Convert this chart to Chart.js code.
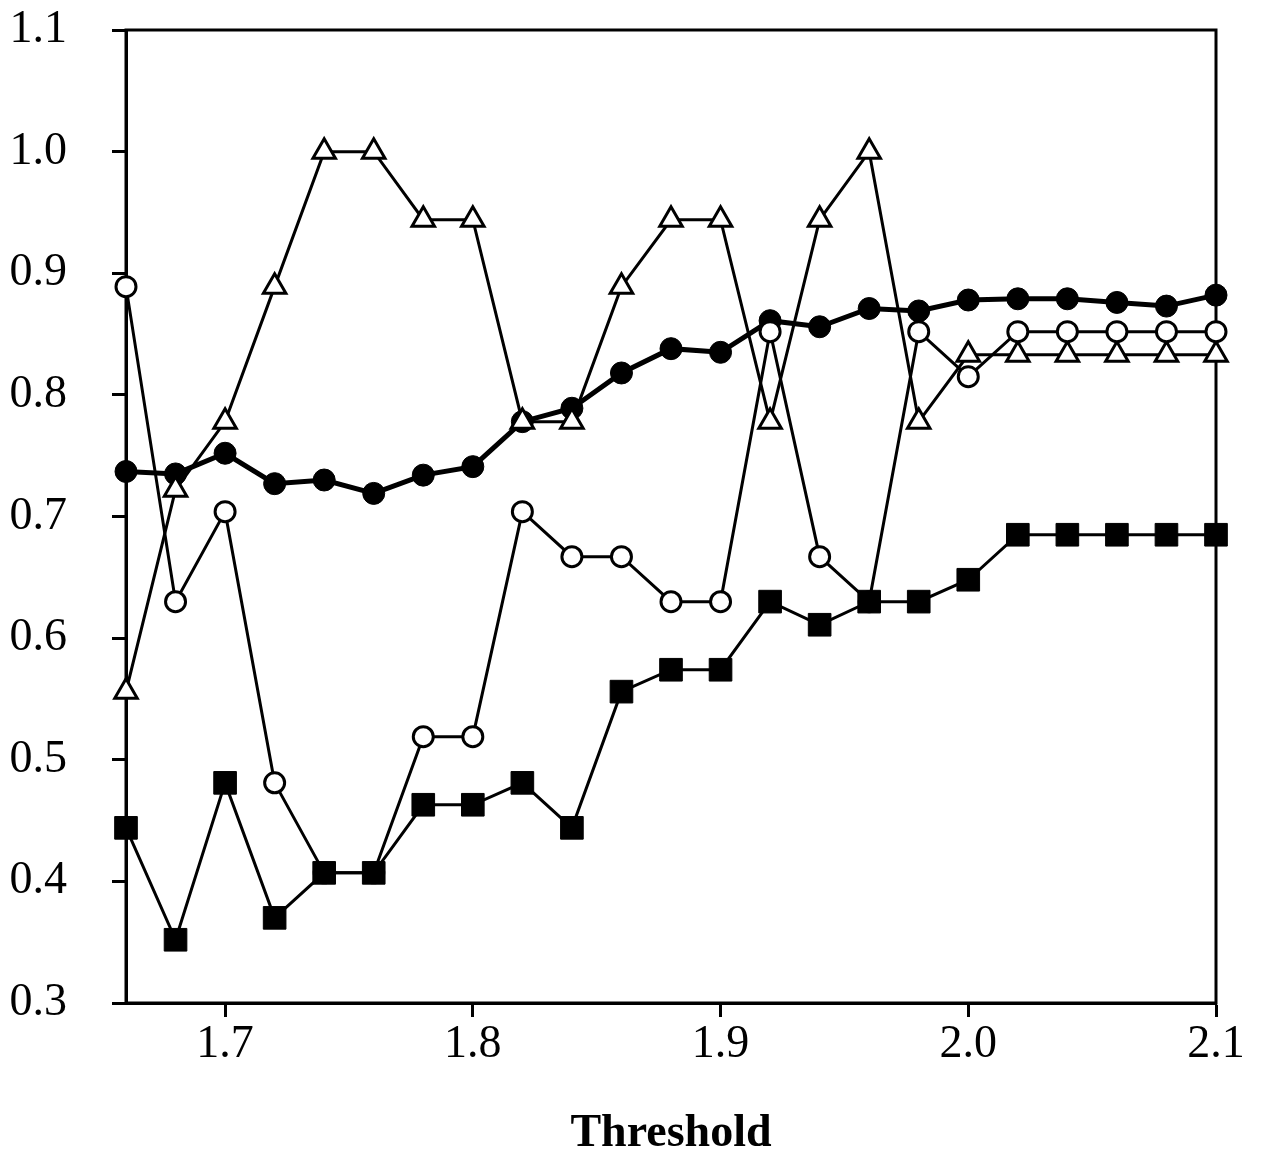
<!DOCTYPE html>
<html>
<head>
<meta charset="utf-8">
<script src="https://cdn.jsdelivr.net/npm/chart.js@4"></script>
<style>
  html, body { margin: 0; padding: 0; background: #fff; }
</style>
</head>
<body>
<canvas id="thresholdChart" width="1262" height="1158"></canvas>
<script>
// Threshold values (x)
const thresholds = [1.66, 1.68, 1.70, 1.72, 1.74, 1.76, 1.78, 1.80, 1.82, 1.84, 1.86, 1.88,
    1.90, 1.92, 1.94, 1.96, 1.98, 2.00, 2.02, 2.04, 2.06, 2.08, 2.10];

// Series
const filledCircles = [0.737, 0.735, 0.752, 0.727, 0.730, 0.719, 0.734, 0.741, 0.778, 0.789, 0.818, 0.838,
    0.835, 0.861, 0.856, 0.871, 0.869, 0.878, 0.879, 0.879, 0.876, 0.873, 0.882];
const openCircles = [0.889, 0.630, 0.704, 0.481, 0.407, 0.407, 0.519, 0.519, 0.704, 0.667, 0.667, 0.630,
    0.630, 0.852, 0.667, 0.630, 0.852, 0.815, 0.852, 0.852, 0.852, 0.852, 0.852];
const openTriangles = [0.556, 0.722, 0.778, 0.889, 1.000, 1.000, 0.944, 0.944, 0.778, 0.778, 0.889, 0.944,
    0.944, 0.778, 0.944, 1.000, 0.778, 0.833, 0.833, 0.833, 0.833, 0.833, 0.833];
const filledSquares = [0.444, 0.352, 0.481, 0.370, 0.407, 0.407, 0.463, 0.463, 0.481, 0.444, 0.556, 0.574,
    0.574, 0.630, 0.611, 0.630, 0.630, 0.648, 0.685, 0.685, 0.685, 0.685, 0.685];

const xTicks = [1.7, 1.8, 1.9, 2.0, 2.1];
const yTicks = [0.3, 0.4, 0.5, 0.6, 0.7, 0.8, 0.9, 1.0, 1.1];

const toPoints = (ys) => ys.map((y, i) => ({ x: thresholds[i], y: y }));

// box around the plot area
const frame = {
    id: "frame",
    beforeDatasetsDraw(chart) {
        const { ctx, chartArea: a } = chart;
        ctx.save();
        ctx.strokeStyle = "#000";
        ctx.lineWidth = 3;
        ctx.strokeRect(a.left, a.top, a.right - a.left, a.bottom - a.top);
        ctx.restore();
    },
};

const tickFont = { family: "'Liberation Serif', 'Times New Roman', serif", size: 46 };

new Chart(document.getElementById("thresholdChart"), {
    type: "line",
    data: {
        datasets: [
            {
                label: "squares",
                data: toPoints(filledSquares),
                borderColor: "#000",
                borderWidth: 3,
                pointStyle: "rect",
                pointRadius: 16,
                pointBackgroundColor: "#000",
                pointBorderColor: "#000",
                pointBorderWidth: 1,
                order: 1,
            },
            {
                label: "open circles",
                data: toPoints(openCircles),
                borderColor: "#000",
                borderWidth: 3,
                pointStyle: "circle",
                pointRadius: 10,
                pointBackgroundColor: "#fff",
                pointBorderColor: "#000",
                pointBorderWidth: 3,
                order: 2,
            },
            {
                label: "triangles",
                data: toPoints(openTriangles),
                borderColor: "#000",
                borderWidth: 3,
                pointStyle: "triangle",
                pointRadius: 13,
                pointBackgroundColor: "#fff",
                pointBorderColor: "#000",
                pointBorderWidth: 3,
                order: 3,
            },
            {
                label: "filled circles",
                data: toPoints(filledCircles),
                borderColor: "#000",
                borderWidth: 5,
                pointStyle: "circle",
                pointRadius: 11,
                pointBackgroundColor: "#000",
                pointBorderColor: "#000",
                pointBorderWidth: 1,
                order: 4,
            },
        ],
    },
    options: {
        responsive: false,
        animation: false,
        layout: { padding: { top: 30, right: 46, left: 0, bottom: 0 } },
        elements: { line: { tension: 0 } },
        datasets: { line: { clip: false } },
        plugins: {
            legend: { display: false },
            tooltip: { enabled: false },
        },
        scales: {
            x: {
                type: "linear",
                min: 1.66,
                max: 2.1,
                afterBuildTicks: (axis) => { axis.ticks = xTicks.map((v) => ({ value: v })); },
                afterFit: (axis) => {
                    axis.height = 155;
                    axis.paddingLeft = 0;
                    axis.paddingRight = 0;
                },
                border: { display: true, color: "#000", width: 3 },
                grid: { drawOnChartArea: false, drawTicks: true, tickLength: 14, tickWidth: 3, tickColor: "#000" },
                ticks: {
                    color: "#000",
                    font: tickFont,
                    padding: 0,
                    maxRotation: 0,
                    callback: (v) => Number(v).toFixed(1),
                },
                title: {
                    display: true,
                    text: "Threshold",
                    color: "#000",
                    font: { family: tickFont.family, size: 46, weight: "bold" },
                    padding: { top: 0, bottom: -4 },
                },
            },
            y: {
                min: 0.3,
                max: 1.1,
                afterBuildTicks: (axis) => { axis.ticks = yTicks.map((v) => ({ value: v })); },
                afterFit: (axis) => {
                    axis.width = 126;
                    axis.paddingTop = 0;
                    axis.paddingBottom = 0;
                },
                border: { display: true, color: "#000", width: 3 },
                grid: { drawOnChartArea: false, drawTicks: true, tickLength: 14, tickWidth: 3, tickColor: "#000" },
                ticks: {
                    color: "#000",
                    font: tickFont,
                    padding: 45,
                    callback: (v) => Number(v).toFixed(1),
                },
            },
        },
    },
    plugins: [frame],
});
</script>
</body>
</html>
